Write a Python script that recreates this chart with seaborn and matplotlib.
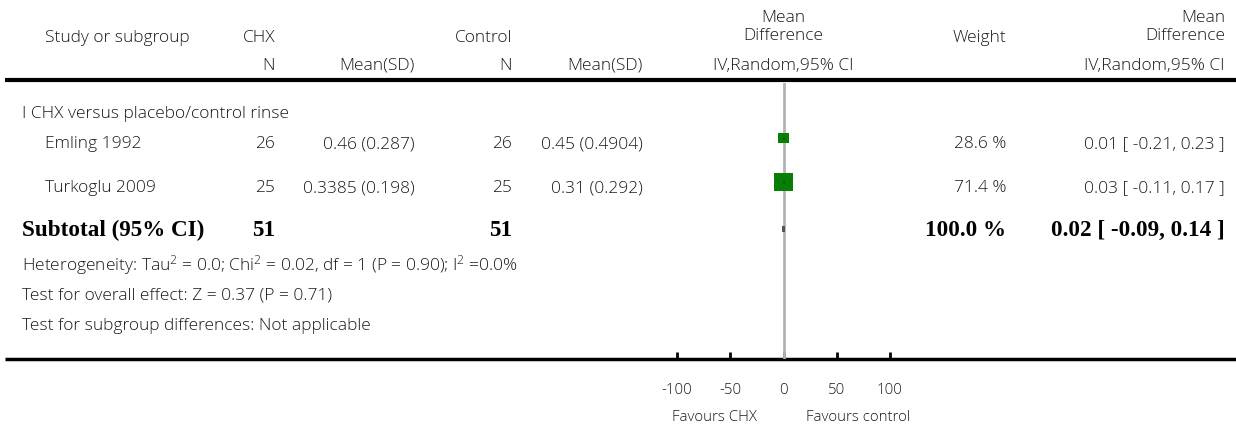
import matplotlib
matplotlib.use("Agg")
import matplotlib.pyplot as plt
import seaborn as sns
import numpy as np

# ---- data ----
studies = ["Emling 1992", "Turkoglu 2009"]
n_chx = [26, 25]
mean_sd_chx = ["0.46 (0.287)", "0.3385 (0.198)"]
n_ctl = [26, 25]
mean_sd_ctl = ["0.45 (0.4904)", "0.31 (0.292)"]
weights = [28.6, 71.4]
md = [0.01, 0.03]
ci_lo = [-0.21, -0.11]
ci_hi = [0.23, 0.17]

sub_n_chx = 51
sub_n_ctl = 51
sub_weight = 100.0
sub_md = 0.02
sub_lo = -0.09
sub_hi = 0.14

xticks = [-100, -50, 0, 50, 100]

sns.set_theme(style="white")
plt.rcParams["font.family"] = ["Open Sans", "DejaVu Sans"]
plt.rcParams["font.weight"] = "light"
plt.rcParams["mathtext.fontset"] = "custom"
plt.rcParams["mathtext.rm"] = "Open Sans:light"
plt.rcParams["mathtext.default"] = "regular"

W, H = 1236, 429
fig = plt.figure(figsize=(W / 100, H / 100), dpi=100)

# text layer in pixel coordinates
ax = fig.add_axes([0, 0, 1, 1])
ax.set_xlim(0, W)
ax.set_ylim(H, 0)
ax.axis("off")

txt = "#1a1a1a"
fs = 12.5
bfs = 16.7
serif = ["Liberation Serif", "DejaVu Serif"]

# columns (right edges)
c_study, c_n1, c_m1, c_n2, c_m2, c_fp, c_w, c_md = 45, 275, 415, 512, 643, 783, 1006, 1225

def t(x, y, s, ha="left", **kw):
    kw.setdefault("fontsize", fs)
    kw.setdefault("color", txt)
    ax.text(x, y + 1.5, s, ha=ha, va="center", **kw)

def tb(x, y, s, ha="left"):
    t(x, y - 1, s, ha, fontsize=bfs, fontweight="bold", family=serif, color="black")

# header
t(c_study, 36, "Study or subgroup")
t(c_n1, 36, "CHX", "right")
t(c_n2, 36, "Control", "right")
t(c_fp, 16, "Mean", "center")
t(c_fp, 35, "Difference", "center")
t(c_w, 36, "Weight", "right")
t(c_md, 16, "Mean", "right")
t(c_md, 35, "Difference", "right")
t(c_n1, 64, "N", "right")
t(c_m1, 64, "Mean(SD)", "right")
t(c_n2, 64, "N", "right")
t(c_m2, 64, "Mean(SD)", "right")
t(c_fp, 64, "IV,Random,95% CI", "center")
t(c_md, 64, "IV,Random,95% CI", "right")

ax.plot([5, W], [80, 80], color="black", lw=3, solid_capstyle="butt")
ax.plot([5, W], [359, 359], color="black", lw=2.5, solid_capstyle="butt")

t(22, 112, "I CHX versus placebo/control rinse")

rows_y = [143, 187]
for i, y in enumerate(rows_y):
    t(c_study, y, studies[i])
    t(c_n1, y, str(n_chx[i]), "right")
    t(c_m1, y, mean_sd_chx[i], "right")
    t(c_n2, y, str(n_ctl[i]), "right")
    t(c_m2, y, mean_sd_ctl[i], "right")
    t(c_w, y, f"{weights[i]:.1f} %", "right")
    t(c_md, y, f"{md[i]:.2f} [ {ci_lo[i]:.2f}, {ci_hi[i]:.2f} ]", "right")

sy = 230
tb(22, sy, "Subtotal (95% CI)")
tb(c_n1, sy, str(sub_n_chx), "right")
tb(c_n2, sy, str(sub_n_ctl), "right")
tb(c_w, sy, f"{sub_weight:.1f} %", "right")
tb(c_md, sy, f"{sub_md:.2f} [ {sub_lo:.2f}, {sub_hi:.2f} ]", "right")

t(22, 264, r"Heterogeneity: Tau$^{2}$ = 0.0; Chi$^{2}$ = 0.02, df = 1 (P = 0.90); I$^{2}$ =0.0%")
t(22, 294, "Test for overall effect: Z = 0.37 (P = 0.71)")
t(22, 324, "Test for subgroup differences: Not applicable")

t(714, 416, "Favours CHX", "center", fontsize=10.8)
t(858, 416, "Favours control", "center", fontsize=10.8)

# forest panel
top, bot = 83, 359
fax = fig.add_axes([677 / W, (H - bot) / H, (890 - 677) / W, (bot - top) / H])
fax.set_xlim(-100, 100)
fax.set_ylim(bot, top)
fax.patch.set_alpha(0)
for s in fax.spines.values():
    s.set_visible(False)
fax.axvline(0, color="#b3b3b3", lw=2, zorder=1)

# marks sit a little above the text baseline row
mark_y = [y - 5 for y in rows_y]
fax.hlines(mark_y, ci_lo, ci_hi, color="black", lw=1, zorder=3)
sns.scatterplot(x=md, y=mark_y, size=weights, sizes=(62, 170), size_norm=(28.6, 71.4),
                marker="s", color="#077f07", edgecolor="none", legend=False, ax=fax, zorder=2)

my = sy - 1
dx = [sub_lo, sub_md, sub_hi, sub_md]
dy = [my, my - 3, my, my + 3]
fax.fill(dx, dy, facecolor="#555555", edgecolor="#555555", lw=2, zorder=3)

fax.set_xticks(xticks)
fax.set_xticklabels([str(v) for v in xticks])
fax.set_yticks([])
fax.tick_params(axis="x", direction="in", length=5, width=2, color="black",
                bottom=True, labelsize=10.8, labelcolor=txt, pad=17)

fig.savefig("out.png", dpi=100, facecolor="white")
